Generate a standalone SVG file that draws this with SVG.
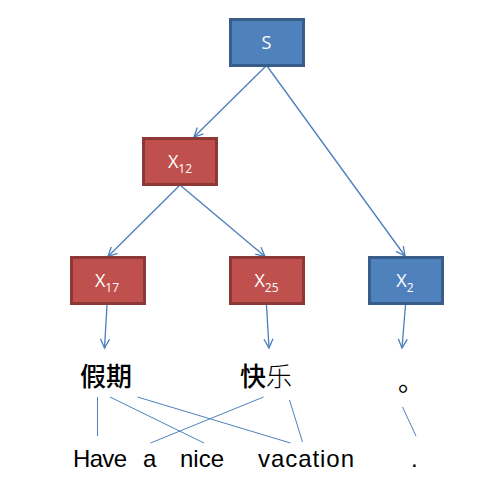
<svg xmlns="http://www.w3.org/2000/svg" width="489" height="488" viewBox="0 0 489 488">
<style>
.blue{fill:#4F81BD;stroke:#385D8A;stroke-width:3}
.red{fill:#C0504D;stroke:#8C3836;stroke-width:3}
.lbl{font-family:"Open Sans","Liberation Sans",Arial,sans-serif;font-size:18px;fill:#FFFFFF;text-anchor:middle}
.sub{font-size:12px}
.edge{stroke:#4A7EBB;stroke-width:1.3;fill:none;marker-end:url(#arr)}
.link{stroke:#4F81BD;stroke-width:1;fill:none}
.zh{font-family:"Noto Sans CJK SC","Noto Sans CJK JP",sans-serif;font-size:26px;fill:#000}
.en{font-family:"Liberation Sans",Arial,sans-serif;font-size:24px;fill:#000}
</style>
<defs>
<marker id="arr" markerWidth="12" markerHeight="12" refX="10" refY="5" orient="auto" markerUnits="userSpaceOnUse" viewBox="0 0 12 10">
<path d="M1,0.5 L10,5 L1,9.5" fill="none" stroke="#4A7EBB" stroke-width="1.3"/>
</marker>
</defs>
<g id="connectors">
<line class="edge" x1="266" y1="66" x2="194" y2="137"/>
<line class="edge" x1="267" y1="66" x2="405" y2="256"/>
<line class="edge" x1="180" y1="185" x2="108" y2="256.5"/>
<line class="edge" x1="180" y1="185" x2="265" y2="256.5"/>
<line class="edge" x1="107" y1="305" x2="104.5" y2="348"/>
<line class="edge" x1="266.5" y1="305" x2="269" y2="348"/>
<line class="edge" x1="405.5" y1="305" x2="402" y2="348"/>
<line class="link" x1="97.5" y1="397" x2="97.5" y2="436"/>
<line class="link" x1="110" y1="397" x2="204" y2="443"/>
<line class="link" x1="137.5" y1="397" x2="290.5" y2="443"/>
<line class="link" x1="263.5" y1="397" x2="150.5" y2="443"/>
<line class="link" x1="289.5" y1="400" x2="302.5" y2="442"/>
<line class="link" x1="402.5" y1="407" x2="416" y2="436"/>
</g>
<g id="node-S">
<rect class="blue" x="230.5" y="19.5" width="73" height="46"/>
<text class="lbl" x="266.5" y="49">S</text>
</g>
<g id="node-X12">
<rect class="red" x="143.5" y="138.5" width="73" height="46"/>
<text class="lbl" x="180" y="168">X<tspan class="sub" dy="5">12</tspan></text>
</g>
<g id="node-X17">
<rect class="red" x="71.5" y="257.5" width="73" height="46"/>
<text class="lbl" x="107" y="287">X<tspan class="sub" dy="5">17</tspan></text>
</g>
<g id="node-X25">
<rect class="red" x="230.5" y="257.5" width="73" height="46"/>
<text class="lbl" x="266.5" y="287">X<tspan class="sub" dy="5">25</tspan></text>
</g>
<g id="node-X2">
<rect class="blue" x="369.5" y="257.5" width="73" height="46"/>
<text class="lbl" x="405" y="287">X<tspan class="sub" dy="5">2</tspan></text>
</g>
<g id="words">
<text class="zh" x="80" y="386" font-weight="500">假期</text>
<text class="zh" x="240" y="386"><tspan font-weight="500">快</tspan><tspan font-weight="300">乐</tspan></text>
<text class="zh" x="398" y="391">。</text>
<text class="en" x="73" y="467" textLength="54">Have</text>
<text class="en" x="143" y="467">a</text>
<text class="en" x="180" y="467">nice</text>
<text class="en" x="258" y="467" textLength="96">vacation</text>
<text class="en" x="411" y="467">.</text>
</g>
</svg>
